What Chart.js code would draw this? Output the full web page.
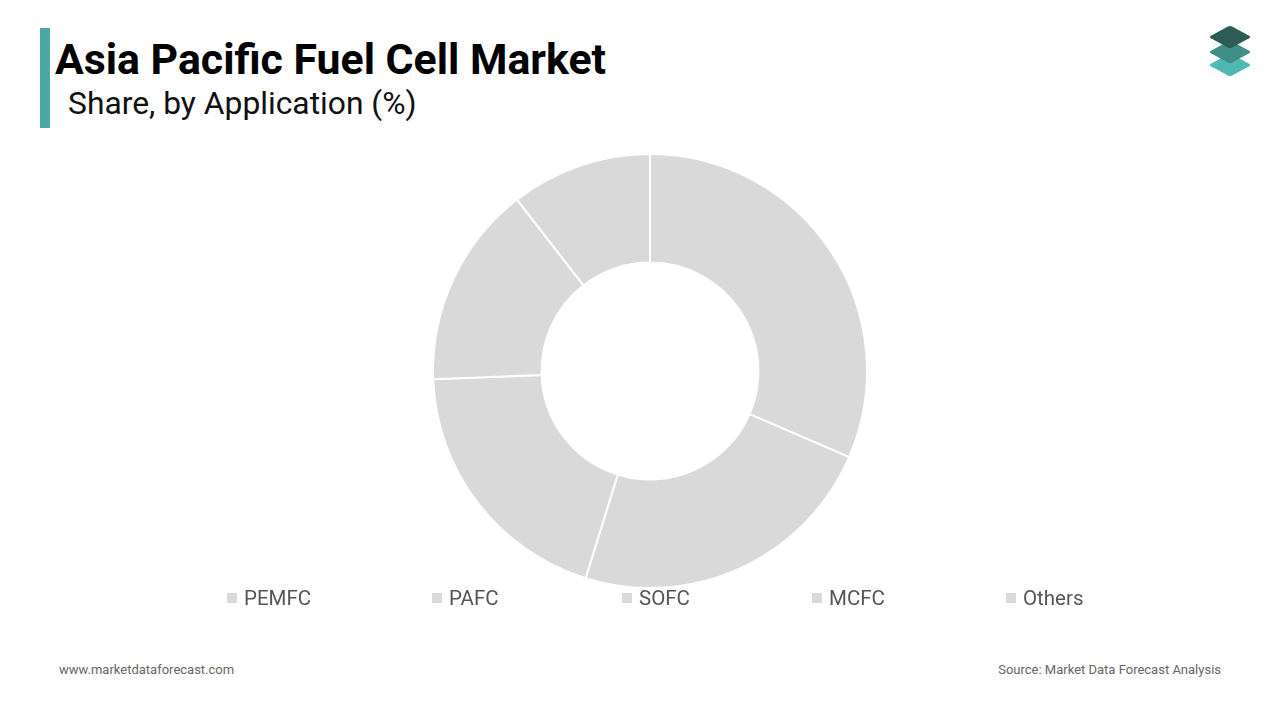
<!DOCTYPE html>
<html><head><meta charset="utf-8">
<script src="https://cdn.jsdelivr.net/npm/chart.js@4/dist/chart.umd.min.js"></script>
<style>
body{margin:0;width:1280px;height:720px;background:#fff;font-family:Roboto,"Noto Sans",sans-serif;position:relative;overflow:hidden}
#bar{position:absolute;left:40px;top:28px;width:10px;height:100px;background:#4aa9a5}
#t{position:absolute;left:55px;top:34px;font-size:42.8px;font-weight:700;color:#000}
#s{position:absolute;left:68px;top:84px;font-size:31.8px;color:#111}
#wrap{position:absolute;left:0;top:151px;width:1300px;height:440px}
.f{position:absolute;top:662px;font-size:13px;color:#666}
.lg{position:absolute;width:30px;height:30px;transform:scaleY(0.55) rotate(45deg);border-radius:3px}
#legend{position:absolute;top:586px;left:0;width:1280px;height:26px}
#legend span{position:absolute;font-size:20.5px;color:#555;white-space:nowrap}
#legend i{display:inline-block;width:10px;height:10px;background:#d9d9d9;margin-right:7px;vertical-align:2px}
</style></head><body>
<div id="bar"></div>
<div id="t">Asia Pacific Fuel Cell Market</div>
<div id="s">Share, by Application (%)</div>
<div class="lg" style="left:1215px;top:50px;background:#4fb8b1"></div>
<div class="lg" style="left:1215px;top:37px;background:#3e8f86"></div>
<div class="lg" style="left:1215px;top:22px;background:#2d5c57"></div>
<div id="wrap"><canvas id="c"></canvas></div>
<div id="legend"></div>
<div class="f" style="left:59px">www.marketdataforecast.com</div>
<div class="f" style="right:59px">Source: Market Data Forecast Analysis</div>
<script>
const categories = ['PEMFC', 'PAFC', 'SOFC', 'MCFC', 'Others'];
const shares = [31.5, 23.3, 19.6, 15.1, 10.5];
const legendX = [227, 432, 622, 812, 1006];

const lg = document.getElementById('legend');
categories.forEach((c, i) => {
  const s = document.createElement('span');
  s.style.left = legendX[i] + 'px';
  s.innerHTML = '<i></i>' + c;
  lg.appendChild(s);
});

new Chart(document.getElementById('c'), {
  type: 'doughnut',
  data: {
    labels: categories,
    datasets: [{
      data: shares,
      backgroundColor: '#d9d9d9',
      borderColor: '#ffffff',
      borderWidth: 2
    }]
  },
  options: {
    responsive: true,
    maintainAspectRatio: false,
    animation: false,
    cutout: '50%',
    layout: { padding: 2 },
    plugins: {
      tooltip: { enabled: false },
      legend: { display: false }
    }
  }
});
</script>
</body></html>
